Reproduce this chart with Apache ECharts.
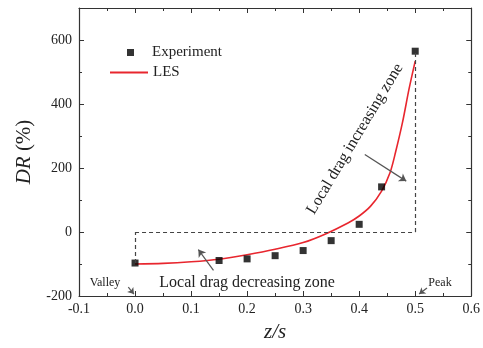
<!DOCTYPE html>
<html>
<head>
<meta charset="utf-8">
<script src="https://cdn.jsdelivr.net/npm/echarts@6/dist/echarts.min.js"></script>
<style>
  html, body { margin: 0; padding: 0; background: #fff; }
  #chart { width: 483px; height: 348px; }
</style>
</head>
<body>
<div id="chart"></div>
<script>
// 实验数据点
const expX = [0, 0.15, 0.2, 0.25, 0.3, 0.35, 0.4, 0.44, 0.5];
const expY = [-97, -89, -84, -74, -58, -27, 24, 141, 565];
// LES 曲线
const lesX = [0, 0.05, 0.1, 0.15, 0.2, 0.25, 0.3, 0.34, 0.38, 0.4, 0.42, 0.44, 0.455, 0.465, 0.4775, 0.489, 0.5];
const lesY = [-100, -98, -93, -85, -71, -54, -33, -6, 28, 50, 80, 128, 185, 250, 344, 447, 534];
const xTicks = [-0.1, 0, 0.1, 0.2, 0.3, 0.4, 0.5, 0.6];
const yTicks = [-200, 0, 200, 400, 600];

const serif = 'Liberation Serif';
const axisColor = '#333';

document.addEventListener('DOMContentLoaded', function() {
    const chart = echarts.init(document.getElementById('chart'));

    const expData = expX.map((x, i) => [x, expY[i]]);
    const lesData = lesX.map((x, i) => [x, lesY[i]]);
    const last = expData.length - 1;

    const dash = { color: '#444', type: [4, 3], width: 1.2 };
    const arrowStyle = { color: '#555', type: 'solid', width: 1.2 };

    function frameAxis(extra) {
        return Object.assign({
            type: 'value',
            axisLine: { show: true, onZero: false, lineStyle: { color: axisColor, width: 1.2 } },
            axisTick: { show: true, inside: true, length: 5, lineStyle: { color: axisColor } },
            minorTick: { show: true, splitNumber: 2, length: 3, lineStyle: { color: axisColor } },
            splitLine: { show: false }
        }, extra);
    }

    chart.setOption({
        animation: false,
        grid: { left: 79, right: 11, top: 8, bottom: 50 },
        legend: [
            {
                data: [{ name: 'Experiment', icon: 'rect' }],
                left: 122, top: 40,
                itemWidth: 7, itemHeight: 7,
                textStyle: { fontFamily: serif, fontSize: 15, color: '#222', padding: [0, 0, 0, 13] }
            },
            {
                data: [{ name: 'LES', icon: 'rect', itemStyle: { color: '#e8262e' } }],
                left: 105, top: 60,
                itemWidth: 38, itemHeight: 2,
                textStyle: { fontFamily: serif, fontSize: 15, color: '#222' }
            }
        ],
        xAxis: [
            frameAxis({
                min: xTicks[0], max: xTicks[xTicks.length - 1], interval: 0.1,
                position: 'bottom',
                name: 'z/s', nameLocation: 'middle', nameGap: 26,
                nameTextStyle: { fontFamily: serif, fontSize: 21, fontStyle: 'italic', color: '#222' },
                axisLabel: { fontFamily: serif, fontSize: 14, color: '#222', margin: 6,
                    formatter: v => v.toFixed(1) }
            }),
            frameAxis({
                min: xTicks[0], max: xTicks[xTicks.length - 1], interval: 0.1,
                position: 'top', axisLabel: { show: false }
            })
        ],
        yAxis: [
            frameAxis({
                min: yTicks[0], max: 700, interval: 200,
                position: 'left',
                name: '{i|DR} (%)', nameLocation: 'middle', nameGap: 44,
                nameTextStyle: { fontFamily: serif, fontSize: 21, color: '#222',
                    rich: { i: { fontFamily: serif, fontSize: 21, fontStyle: 'italic', color: '#222' } } },
                axisLabel: { fontFamily: serif, fontSize: 14, color: '#222', margin: 7,
                    formatter: v => (yTicks.indexOf(v) >= 0 ? String(v) : '') }
            }),
            frameAxis({
                min: yTicks[0], max: 700, interval: 200,
                position: 'right', axisLabel: { show: false }
            })
        ],
        series: [
            {
                name: 'LES',
                type: 'line',
                data: lesData,
                smooth: 0.3,
                symbol: 'none',
                lineStyle: { color: '#e8262e', width: 1.6 },
                itemStyle: { color: '#e8262e' },
                z: 3,
                markLine: {
                    silent: true,
                    symbol: 'none',
                    label: { show: false },
                    lineStyle: dash,
                    data: [
                        [{ coord: [expX[0], expY[0]] }, { coord: [expX[0], 0] }],
                        [{ coord: [expX[0], 0] }, { coord: [expX[last], 0] }],
                        [{ coord: [expX[last], 0] }, { coord: [expX[last], expY[last]] }],
                        [{ coord: [0.140, -120], lineStyle: arrowStyle, symbol: 'none' },
                         { coord: [0.113, -55], symbol: 'arrow', symbolSize: 7 }],
                        [{ coord: [0.41, 242], lineStyle: arrowStyle, symbol: 'none' },
                         { coord: [0.484, 159], symbol: 'arrow', symbolSize: 7 }],
                        [{ coord: [-0.012, -172], lineStyle: arrowStyle, symbol: 'none' },
                         { coord: [-0.002, -194], symbol: 'arrow', symbolSize: 6 }],
                        [{ coord: [0.521, -175], lineStyle: arrowStyle, symbol: 'none' },
                         { coord: [0.507, -194], symbol: 'arrow', symbolSize: 6 }]
                    ]
                }
            },
            {
                name: 'Experiment',
                type: 'scatter',
                data: expData,
                symbol: 'rect',
                symbolSize: 7,
                itemStyle: { color: '#000' },
                z: 4
            }
        ],
        graphic: [
            { type: 'text', x: 247, y: 283, style: { text: 'Local drag decreasing zone',
                font: '16px "Liberation Serif"', fill: '#222', align: 'center', verticalAlign: 'middle' } },
            { type: 'text', x: 355, y: 139, rotation: 59 * Math.PI / 180,
                style: { text: 'Local drag increasing zone',
                font: '16px "Liberation Serif"', fill: '#222', align: 'center', verticalAlign: 'middle' } },
            { type: 'text', x: 105, y: 283, style: { text: 'Valley',
                font: '12px "Liberation Serif"', fill: '#222', align: 'center', verticalAlign: 'middle' } },
            { type: 'text', x: 440, y: 283, style: { text: 'Peak',
                font: '12px "Liberation Serif"', fill: '#222', align: 'center', verticalAlign: 'middle' } }
        ]
    });

    window.addEventListener('resize', function() {
        chart.resize();
    });
});
</script>
</body>
</html>
